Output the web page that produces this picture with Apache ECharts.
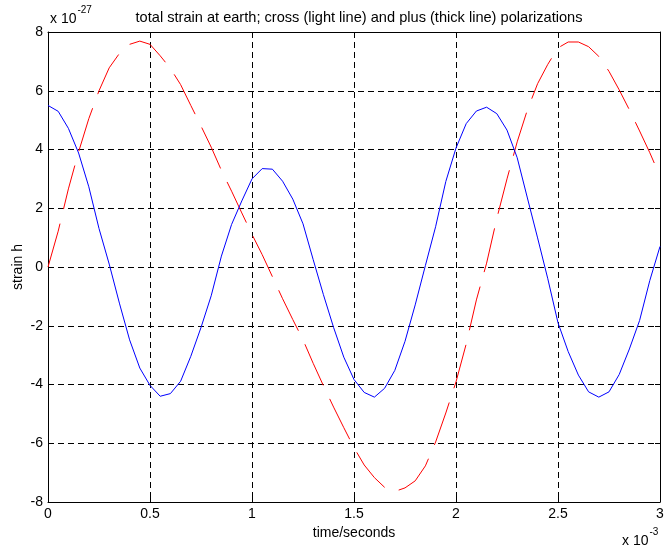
<!DOCTYPE html>
<html><head><meta charset="utf-8">
<script src="https://cdn.jsdelivr.net/npm/echarts@6/dist/echarts.min.js"></script>
<style>html,body{margin:0;padding:0;background:#fff}#c{width:667px;height:550px}</style>
</head><body><div id="c"></div>
<script>
// time in units of 1e-3 s
const times = [0,0.05,0.1,0.15,0.2,0.25,0.3,0.35,0.4,0.45,0.5,0.55,0.6,0.65,0.7,0.75,0.8,0.85,0.9,0.95,
  1,1.05,1.1,1.15,1.2,1.25,1.3,1.35,1.4,1.45,1.5,1.55,1.6,1.65,1.7,1.75,1.8,1.85,1.9,1.95,
  2,2.05,2.1,2.15,2.2,2.25,2.3,2.35,2.4,2.45,2.5,2.55,2.6,2.65,2.7,2.75,2.8,2.85,2.9,2.95,3];
// plus polarization (thick line, blue), units of 1e-27
const plusStrain = [5.50,5.30,4.72,3.88,2.73,1.31,0.10,-1.23,-2.48,-3.44,-4.03,-4.40,-4.31,-3.89,-3.04,-2.06,-0.98,0.37,1.45,2.25,
  3.00,3.35,3.33,2.92,2.31,1.47,0.25,-0.94,-2.06,-3.07,-3.83,-4.27,-4.43,-4.13,-3.52,-2.53,-1.29,0.05,1.37,2.91,
  4.05,4.88,5.31,5.44,5.22,4.66,3.72,2.35,0.99,-0.40,-1.90,-2.88,-3.68,-4.25,-4.43,-4.25,-3.66,-2.79,-1.82,-0.46,0.70];
// cross polarization (light line, red dashed)
const crossStrain = [0,1.22,2.66,3.92,5.05,6.00,6.78,7.27,7.58,7.69,7.58,7.19,6.76,6.21,5.50,4.80,4.08,3.29,2.58,1.84,
  1.11,0.42,-0.33,-1.08,-1.79,-2.48,-3.28,-4.04,-4.77,-5.47,-6.15,-6.74,-7.17,-7.50,-7.64,-7.52,-7.28,-6.77,-5.96,-4.97,
  -3.91,-2.62,-1.12,0.13,1.65,3.00,4.26,5.35,6.24,6.90,7.46,7.66,7.66,7.50,7.17,6.66,6.03,5.35,4.63,3.89,3.09];
const xTicks = {min:0, max:3, step:0.5};
const yTicks = {min:-8, max:8, step:2};
const titleText = 'total strain at earth; cross (light line) and plus (thick line) polarizations';
const xName = 'time/seconds';
const yName = 'strain h';

const FONT = 'Liberation Sans, Arial, Helvetica, sans-serif';
const chart = echarts.init(document.getElementById('c'), null, {renderer:'canvas'});
const axisCommon = {
  type:'value',
  axisLine:{show:true, onZero:false, lineStyle:{color:'#000', width:1}},
  axisTick:{show:true, inside:true, length:5, lineStyle:{color:'#000'}},
  minorTick:{show:false}
};
chart.setOption({
  animation:false,
  backgroundColor:'#fff',
  grid:{left:48, right:7, top:32, bottom:48, containLabel:false, outerBoundsMode:'none'},
  xAxis:[
    Object.assign({}, axisCommon, {
      min:xTicks.min, max:xTicks.max, interval:xTicks.step, position:'bottom',
      axisLabel:{color:'#000', fontSize:14, fontFamily:FONT, margin:5},
      splitLine:{show:true, lineStyle:{color:'#000', width:1, type:[6,4]}},
      name:xName, nameLocation:'middle', nameGap:18,
      nameTextStyle:{color:'#000', fontSize:14, fontFamily:FONT, verticalAlign:'top'}
    }),
    Object.assign({}, axisCommon, {
      min:xTicks.min, max:xTicks.max, interval:xTicks.step, position:'top',
      axisLabel:{show:false}, splitLine:{show:false}
    })
  ],
  yAxis:[
    Object.assign({}, axisCommon, {
      min:yTicks.min, max:yTicks.max, interval:yTicks.step, position:'left',
      axisLabel:{color:'#000', fontSize:14, fontFamily:FONT, margin:5},
      splitLine:{show:true, lineStyle:{color:'#000', width:1, type:[6,4]}}
    }),
    Object.assign({}, axisCommon, {
      min:yTicks.min, max:yTicks.max, interval:yTicks.step, position:'right',
      axisLabel:{show:false}, splitLine:{show:false}
    })
  ],
  series:[
    {type:'line', name:'cross', xAxisIndex:0, yAxisIndex:0, showSymbol:false, smooth:false,
     data: times.map((t,i)=>[t, crossStrain[i]]),
     lineStyle:{color:'#ff0000', width:1, type:[45,15]}, z:3},
    {type:'line', name:'plus', xAxisIndex:0, yAxisIndex:0, showSymbol:false, smooth:false,
     data: times.map((t,i)=>[t, plusStrain[i]]),
     lineStyle:{color:'#0000ff', width:1}, z:4}
  ],
  graphic:[
    {type:'text', x:359, y:10, style:{text:titleText, fill:'#000', font:'14.6px '+FONT, align:'center'}},
    {type:'text', x:18, y:267, rotation:Math.PI/2, style:{text:yName, fill:'#000', font:'14px '+FONT, align:'center', verticalAlign:'middle'}},
    {type:'text', left:50, top:5, style:{text:'{a|x 10}{b|-27}', fill:'#000',
      rich:{a:{fontSize:14, fontFamily:FONT, verticalAlign:'bottom', padding:[7,0,0,0]}, b:{fontSize:10, fontFamily:FONT, verticalAlign:'top', padding:[0,0,7,1]}}}},
    {type:'text', left:622, top:527, style:{text:'{a|x 10}{b|-3}', fill:'#000',
      rich:{a:{fontSize:14, fontFamily:FONT, verticalAlign:'bottom', padding:[7,0,0,0]}, b:{fontSize:10, fontFamily:FONT, verticalAlign:'top', padding:[0,0,7,1]}}}}
  ]
});
</script></body></html>
